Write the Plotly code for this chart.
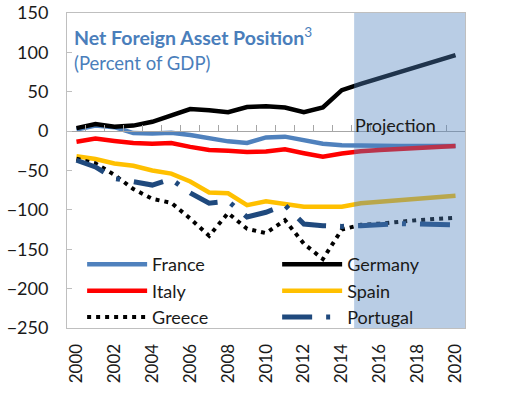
import plotly.graph_objects as go

years = list(range(2000, 2021))
france = [2, 7, 5, -2.5, -3, -2, -5, -8.5, -13, -15, -8, -7, -12, -16, -18, -18.7, -18.8, -18.9, -19, -19, -19]
germany = [3.8, 8.9, 5.5, 7, 11.8, 20, 28, 26.6, 24, 30.5, 31.7, 30, 24, 30, 52, 60, 67.4, 74.6, 81.9, 89.1, 96.4]
italy = [-13.5, -9.5, -12.5, -15, -16, -15, -20, -24, -25, -26.5, -26, -23, -28, -32.5, -28.5, -25.5, -24, -22.5, -21, -20, -19]
spain = [-32, -35.5, -41, -44, -50, -54, -64, -78, -79, -94, -89, -92, -96, -96, -96, -91.5, -89.5, -87.5, -86, -84, -82]
greece = [-35, -41, -55.5, -73.5, -86, -91, -111, -133, -104, -124, -129.5, -113, -143, -162.5, -125, -119, -117.5, -115, -113, -111.5, -110]
portugal = [-37, -45.5, -60, -64, -68.5, -61, -78.5, -91.5, -89, -109, -103, -94, -118, -120, -121, -120, -118, -117.5, -118, -118.5, -119]

y_ticks = [150, 100, 50, 0, -50, -100, -150, -200, -250]
x_ticks = list(range(2000, 2021, 2))
projection_start = 2014.65

FONT = "Lato"
fig = go.Figure()

series = [
    ("France", france, dict(color="#4F81BD", width=4.5), "legend"),
    ("Germany", germany, dict(color="#000000", width=4.5), "legend2"),
    ("Italy", italy, dict(color="#FF0000", width=4.5), "legend"),
    ("Spain", spain, dict(color="#FFC000", width=4.5), "legend2"),
    ("Greece", greece, dict(color="#000000", width=4, dash="4px,5px"), "legend"),
    ("Portugal", portugal, dict(color="#1F497D", width=5, dash="30px,14px,4px,14px"), "legend2"),
]
for name, vals, line, lg in series:
    fig.add_trace(go.Scatter(x=years, y=vals, name=name, mode="lines", line=line,
                             legend=lg, hoverinfo="skip"))

# helper trace for the zero-line category axis
fig.add_trace(go.Scatter(x=years, y=[0] * len(years), xaxis="x2", mode="lines",
                         line=dict(width=0), opacity=0, showlegend=False, hoverinfo="skip"))

fig.add_shape(type="rect", xref="x", yref="paper", x0=projection_start, x1=2020.5, y0=0, y1=1,
              fillcolor="rgba(79,129,189,0.4)", line=dict(width=0), layer="above")

fig.add_annotation(text="<b>Net Foreign Asset Position</b><sup>3</sup>", xref="paper", yref="paper",
                   x=0.012, y=0.924, xanchor="left", yanchor="middle", showarrow=False,
                   font=dict(family=FONT, size=19.5, color="#4A7EBB"))
fig.add_annotation(text="(Percent of GDP)", xref="paper", yref="paper",
                   x=0.012, y=0.841, xanchor="left", yanchor="middle", showarrow=False,
                   font=dict(family=FONT, size=18.5, color="#4A7EBB"))
fig.add_annotation(text="Projection", xref="x", yref="y", x=2014.6, y=8,
                   xanchor="left", yanchor="middle", showarrow=False,
                   font=dict(family=FONT, size=18, color="#1a1a1a"))

legend_common = dict(bgcolor="rgba(0,0,0,0)", borderwidth=0, itemwidth=60,
                     font=dict(family=FONT, size=18, color="#1a1a1a"),
                     orientation="v", xanchor="left", yanchor="top", tracegroupgap=0)

fig.update_layout(
    width=506, height=399,
    margin=dict(l=67, r=41, t=13, b=71, autoexpand=False),
    paper_bgcolor="white", plot_bgcolor="white",
    font=dict(family=FONT, size=17, color="#1a1a1a"),
    legend=dict(x=0.038, y=0.26, **legend_common),
    legend2=dict(x=0.528, y=0.26, **legend_common),
    xaxis=dict(range=[1999.5, 2020.5], tickvals=x_ticks, tickangle=-90, automargin=False,
               showline=True, linecolor="#BFBFBF", linewidth=1, mirror=True,
               ticks="", showgrid=False, zeroline=False, ticklabelstandoff=8,
               tickfont=dict(family=FONT, size=17, color="#1a1a1a")),
    xaxis2=dict(range=[1999.5, 2020.5], overlaying="x", anchor="free", position=0.625,
                side="bottom", showline=True, linecolor="#A6A6A6", linewidth=1, automargin=False,
                tickvals=[1999.5 + k for k in range(22)], ticks="inside", ticklen=6,
                tickcolor="#A6A6A6", showticklabels=False, showgrid=False, zeroline=False),
    yaxis=dict(range=[-250, 150], tickvals=y_ticks, showline=True, linecolor="#BFBFBF",
               linewidth=1, mirror=True, ticks="inside", ticklen=5, tickcolor="#BFBFBF",
               showgrid=False, zeroline=False, ticklabelstandoff=14, automargin=False,
               ticklabeloverflow="allow",
               tickfont=dict(family=FONT, size=18, color="#1a1a1a")),
)

# remove the default 8px page margin so the figure sits at the window's top-left corner
fig.write_html("out.html", config={"displayModeBar": False},
               post_script="document.body.style.margin='0';")
